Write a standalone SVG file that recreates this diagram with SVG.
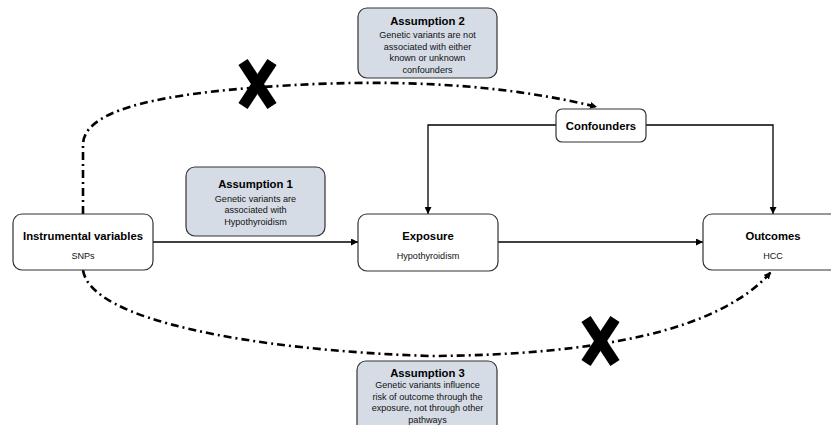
<svg xmlns="http://www.w3.org/2000/svg" width="831" height="425" viewBox="0 0 831 425">
<defs>
<style>
.box{fill:#ffffff;stroke:#333333;stroke-width:1.2}
.abox{fill:#d6dce6;stroke:#333333;stroke-width:1.2}
.t{font-family:"Liberation Sans",Arial,sans-serif;font-size:11.3px;font-weight:bold;fill:#000;text-anchor:middle}
.s{font-family:"Liberation Sans",Arial,sans-serif;font-size:9.1px;fill:#111;text-anchor:middle}
.line{fill:none;stroke:#000;stroke-width:1.3}
.dd{fill:none;stroke:#000;stroke-width:2.6;stroke-dasharray:8 4 2 4}
.x{stroke:#000;stroke-width:11;stroke-linecap:butt}
</style>
<marker id="arr" viewBox="0 0 10 10" refX="10" refY="5" markerWidth="7" markerHeight="7" markerUnits="userSpaceOnUse" orient="auto">
<path d="M0,0 L10,5 L0,10 Z" fill="#000"/>
</marker>
</defs>
<rect width="831" height="425" fill="#ffffff"/>
<g id="connectors">
<path class="line" d="M556,125 H428 V214" marker-end="url(#arr)"/>
<path class="line" d="M646,125 H773 V214" marker-end="url(#arr)"/>
<path class="line" d="M153,242 H358" marker-end="url(#arr)"/>
<path class="line" d="M498,242 H703" marker-end="url(#arr)"/>
<path class="dd" d="M83,214 L83,145 C83,112 150,96 250,88 C350,80 480,78 597,107" marker-end="url(#arr)"/>
<path class="dd" d="M83,270 C90,320 250,350 430,356 C600,355 720,330 771,272" marker-end="url(#arr)"/>
</g>
<g id="cross-top">
<line class="x" x1="243" y1="62" x2="272" y2="106"/>
<line class="x" x1="272" y1="62" x2="243" y2="106"/>
</g>
<g id="cross-bottom">
<line class="x" x1="586" y1="319" x2="615" y2="363"/>
<line class="x" x1="615" y1="319" x2="586" y2="363"/>
</g>
<g id="assumption2">
<rect class="abox" x="358" y="8" width="139" height="70" rx="9"/>
<text class="t" x="427.5" y="25">Assumption 2</text>
<text class="s" x="427.5" y="38">Genetic variants are not</text>
<text class="s" x="427.5" y="49.5">associated with either</text>
<text class="s" x="427.5" y="61">known or unknown</text>
<text class="s" x="427.5" y="72.5">confounders</text>
</g>
<g id="confounders">
<rect class="box" x="556" y="109" width="90" height="33" rx="6"/>
<text class="t" x="601" y="130">Confounders</text>
</g>
<g id="assumption1">
<rect class="abox" x="186" y="167" width="139" height="69" rx="9"/>
<text class="t" x="255.5" y="188">Assumption 1</text>
<text class="s" x="255.5" y="201.5">Genetic variants are</text>
<text class="s" x="255.5" y="213">associated with</text>
<text class="s" x="255.5" y="224.5">Hypothyroidism</text>
</g>
<g id="instrumental">
<rect class="box" x="13" y="214" width="140" height="56" rx="9"/>
<text class="t" x="83" y="240">Instrumental variables</text>
<text class="s" x="83" y="258.5">SNPs</text>
</g>
<g id="exposure">
<rect class="box" x="358" y="214" width="140" height="57" rx="9"/>
<text class="t" x="428" y="240">Exposure</text>
<text class="s" x="428" y="258.5">Hypothyroidism</text>
</g>
<g id="outcomes">
<rect class="box" x="703" y="214" width="140" height="56" rx="9"/>
<text class="t" x="773" y="240">Outcomes</text>
<text class="s" x="773" y="258.5">HCC</text>
</g>
<g id="assumption3">
<rect class="abox" x="357" y="361" width="140" height="72" rx="9"/>
<text class="t" x="427.5" y="377">Assumption 3</text>
<text class="s" x="427.5" y="388">Genetic variants influence</text>
<text class="s" x="427.5" y="399.5">risk of outcome through the</text>
<text class="s" x="427.5" y="411">exposure, not through other</text>
<text class="s" x="427.5" y="422.5">pathways</text>
</g>
</svg>
